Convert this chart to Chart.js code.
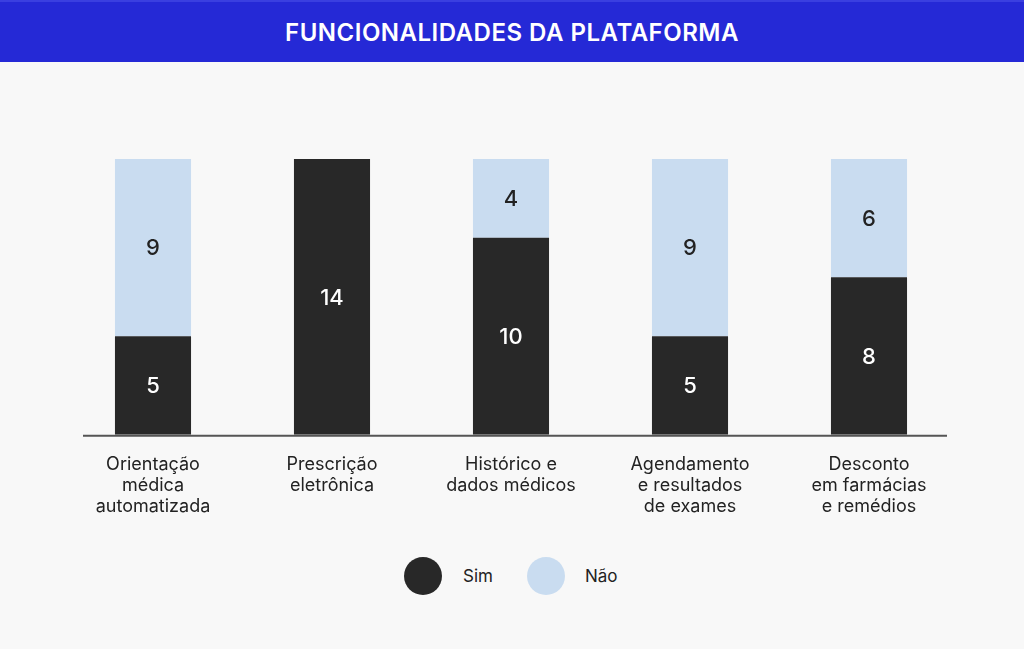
<!DOCTYPE html>
<html>
<head>
<meta charset="utf-8">
<script src="https://cdn.jsdelivr.net/npm/chart.js@4"></script>
<style>
  html, body { margin: 0; padding: 0; background: #f8f8f8; }
  body { width: 1024px; height: 649px; overflow: hidden; font-family: Inter, "Noto Sans", sans-serif; }
  .title {
    height: 62px; background: #2529d6; border-top: 2px solid #3a3fe0; box-sizing: border-box;
    color: #fff; font-weight: 600; font-size: 24px; letter-spacing: 0.5px;
    display: flex; align-items: center; justify-content: center;
  }
  .chart-box { position: relative; width: 1024px; height: 478px; }
  .legend { position: absolute; top: 557px; left: 0; width: 1024px; height: 38px; }
  .legend span.dot { position: absolute; width: 38px; height: 38px; border-radius: 50%; }
  .legend span.txt { position: absolute; top: 9px; font-size: 17px; color: #222; }
</style>
</head>
<body>
<div class="title">FUNCIONALIDADES DA PLATAFORMA</div>
<div class="chart-box"><canvas id="featuresChart"></canvas></div>
<div class="legend" id="legend"></div>
<script>
var categories = [
    ['Orientação', 'médica', 'automatizada'],
    ['Prescrição', 'eletrônica'],
    ['Histórico e', 'dados médicos'],
    ['Agendamento', 'e resultados', 'de exames'],
    ['Desconto', 'em farmácias', 'e remédios']
];
var simValues = [5, 14, 10, 5, 8];
var naoValues = [9, 0, 4, 9, 6];
var seriesNames = ['Sim', 'Não'];
var seriesColors = ['#282828', '#c9dcf0'];
var labelColors = ['#ffffff', '#222222'];

// values written inside each segment
var segmentLabels = {
    id: 'segmentLabels',
    afterDatasetsDraw: function (chart) {
        var ctx = chart.ctx;
        ctx.save();
        ctx.font = '500 22px Inter, "Noto Sans", sans-serif';
        ctx.textAlign = 'center';
        ctx.textBaseline = 'middle';
        chart.data.datasets.forEach(function (ds, i) {
            chart.getDatasetMeta(i).data.forEach(function (bar, j) {
                if (!ds.data[j]) return;
                ctx.fillStyle = labelColors[i];
                ctx.fillText(ds.data[j], bar.x, (bar.y + bar.base) / 2 + 1);
            });
        });
        ctx.restore();
    }
};

// short baseline under the bars
var baseLine = {
    id: 'baseLine',
    afterDatasetsDraw: function (chart) {
        var ctx = chart.ctx, area = chart.chartArea;
        ctx.save();
        ctx.strokeStyle = '#555555';
        ctx.lineWidth = 2;
        ctx.beginPath();
        ctx.moveTo(area.left + 19.5, area.bottom + 1);
        ctx.lineTo(area.right - 11.5, area.bottom + 1);
        ctx.stroke();
        ctx.restore();
    }
};

var ctxFeatures = document.getElementById('featuresChart').getContext('2d');
var featuresChart = new Chart(ctxFeatures, {
    type: 'bar',
    data: {
        labels: categories,
        datasets: [{
            label: seriesNames[0],
            data: simValues,
            backgroundColor: seriesColors[0]
        }, {
            label: seriesNames[1],
            data: naoValues,
            backgroundColor: seriesColors[1]
        }]
    },
    options: {
        responsive: true,
        maintainAspectRatio: false,
        animation: false,
        barPercentage: 0.425,
        categoryPercentage: 1,
        layout: { padding: { top: 97, left: 63.5, right: 65.5, bottom: 12 } },
        plugins: {
            legend: { display: false },
            tooltip: { enabled: false }
        },
        scales: {
            x: {
                stacked: true,
                grid: { display: false },
                border: { display: false },
                ticks: {
                    color: '#222222',
                    padding: 11,
                    maxRotation: 0,
                    autoSkip: false,
                    font: { family: 'Inter, "Noto Sans", sans-serif', size: 18, lineHeight: 1.17 }
                }
            },
            y: {
                stacked: true,
                display: false,
                min: 0,
                max: 14
            }
        }
    },
    plugins: [segmentLabels, baseLine]
});

// legend drawn as HTML
var legendEl = document.getElementById('legend');
var dotX = [404, 527];
var txtX = [463, 585];
seriesNames.forEach(function (name, i) {
    var dot = document.createElement('span');
    dot.className = 'dot';
    dot.style.left = dotX[i] + 'px';
    dot.style.background = seriesColors[i];
    legendEl.appendChild(dot);
    var txt = document.createElement('span');
    txt.className = 'txt';
    txt.style.left = txtX[i] + 'px';
    txt.textContent = name;
    legendEl.appendChild(txt);
});
</script>
</body>
</html>
